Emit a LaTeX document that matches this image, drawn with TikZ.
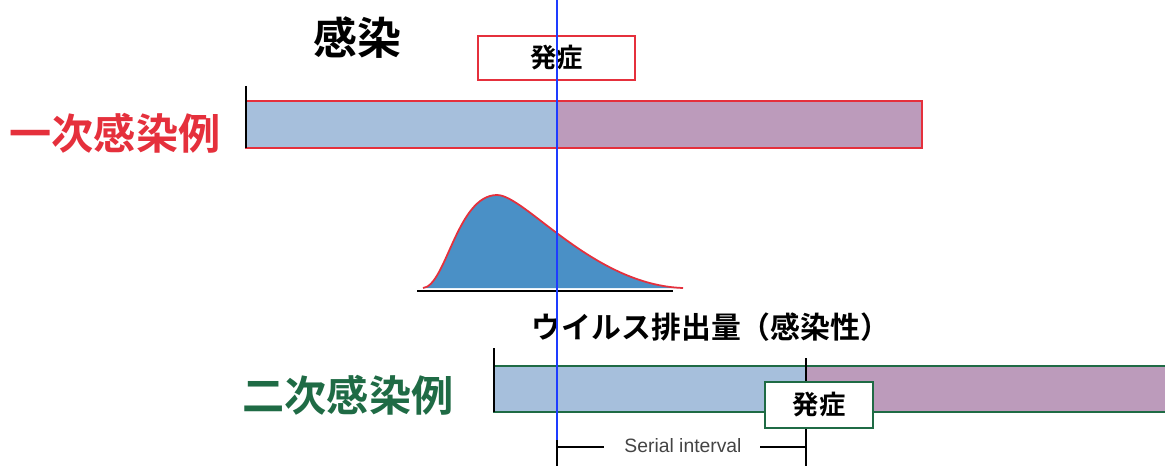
\documentclass[tikz,border=0pt]{standalone}
\usepackage{fontspec}
\setmainfont{Liberation Sans}
\newfontfamily\jp{Noto Sans CJK JP}[BoldFont={* Bold}]
\definecolor{barblue}{HTML}{A6BFDC}
\definecolor{barpurple}{HTML}{BC9BBB}
\definecolor{myred}{HTML}{E5303C}
\definecolor{mygreen}{HTML}{1F6B45}
\definecolor{curvefill}{HTML}{4A90C6}
\definecolor{vline}{HTML}{1E3CFF}
\definecolor{txtgray}{HTML}{444444}
\begin{document}
\begin{tikzpicture}[x=0.02cm,y=-0.02cm,
  jptext/.style={font=\jp\bfseries, inner sep=0pt},
  barpart/.style={anchor=north west, inner sep=0pt, outer sep=0pt, draw=none},
  tickline/.style={draw=black, line width=1.2pt},
  hbox/.style={draw, line width=1.2pt, fill=white, inner sep=0pt, font=\jp\bfseries\fontsize{15}{15}\selectfont}
]
\useasboundingbox (0,0) rectangle (1165,466);
% labels
\node[jptext, font=\jp\bfseries\fontsize{25}{25}\selectfont] (kansen) at (357,38) {感染};
\node[jptext, text=myred, font=\jp\bfseries\fontsize{24}{24}\selectfont] (primary) at (115,133) {一次感染例};
\node[jptext, text=mygreen, font=\jp\bfseries\fontsize{24}{24}\selectfont] (secondary) at (348,395) {二次感染例};
\node[jptext, font=\jp\bfseries\fontsize{17}{17}\selectfont] (virus) at (711,327) {ウイルス排出量（感染性）};
% primary bar
\node[barpart, fill=barblue, minimum width=311*0.02cm, minimum height=47*0.02cm] (p1) at (246,101) {};
\node[barpart, fill=barpurple, minimum width=365*0.02cm, minimum height=47*0.02cm] (p2) at (557,101) {};
\node[barpart, draw=myred, line width=1.2pt, minimum width=676*0.02cm, minimum height=47*0.02cm] (pbar) at (246,101) {};
\coordinate (pt1) at (246,86);
\draw[tickline] (pt1) -- (pbar.south west);
% top symptom box
\node[hbox, draw=myred, minimum width=157*0.02cm, minimum height=44*0.02cm] (h1) at (556.5,58) {発症};
% curve
\coordinate (c0) at (423,288);
\coordinate (cp) at (497,195);
\coordinate (c1) at (683,288);
\fill[curvefill] (c0) .. controls (446,286) and (457,195) .. (cp) .. controls (525,195) and (593,285) .. (c1) -- cycle;
\draw[myred, line width=1pt] (c0) .. controls (446,286) and (457,195) .. (cp) .. controls (525,195) and (593,285) .. (c1);
\coordinate (bl0) at (417,291);
\coordinate (bl1) at (673,291);
\draw[black, line width=1.3pt] (bl0) -- (bl1);
% secondary bar
\node[barpart, fill=barblue, minimum width=312*0.02cm, minimum height=46*0.02cm] (s1) at (494,366) {};
\node[barpart, fill=barpurple, minimum width=365*0.02cm, minimum height=46*0.02cm] (s2) at (806,366) {};
\draw[mygreen, line width=1.2pt] (s2.north east) -- (s1.north west) -- (s1.south west) -- (s2.south east);
\coordinate (st1) at (494,348);
\draw[tickline] (st1) -- (s1.south west);
\coordinate (st2) at (806,358);
\coordinate (st3) at (806,466);
\draw[tickline] (st2) -- (st3);
\node[hbox, draw=mygreen, minimum width=108*0.02cm, minimum height=46*0.02cm] (h2) at (819,405) {発症};
% serial interval
\node[inner sep=1pt, text=txtgray, font=\fontsize{11}{11}\selectfont] (si) at (683,446) {Serial interval};
\coordinate (sl0) at (557,447);
\coordinate (sl1) at (604,447);
\coordinate (sr0) at (760,447);
\coordinate (sr1) at (806,447);
\draw[black, line width=1.2pt] (sl0) -- (sl1);
\draw[black, line width=1.2pt] (sr0) -- (sr1);
\coordinate (bt0) at (557,440);
\coordinate (bt1) at (557,466);
\draw[tickline] (bt0) -- (bt1);
% blue onset line
\coordinate (v0) at (557,0);
\draw[vline, line width=1.3pt] (v0) -- (bt0);
\end{tikzpicture}
\end{document}
